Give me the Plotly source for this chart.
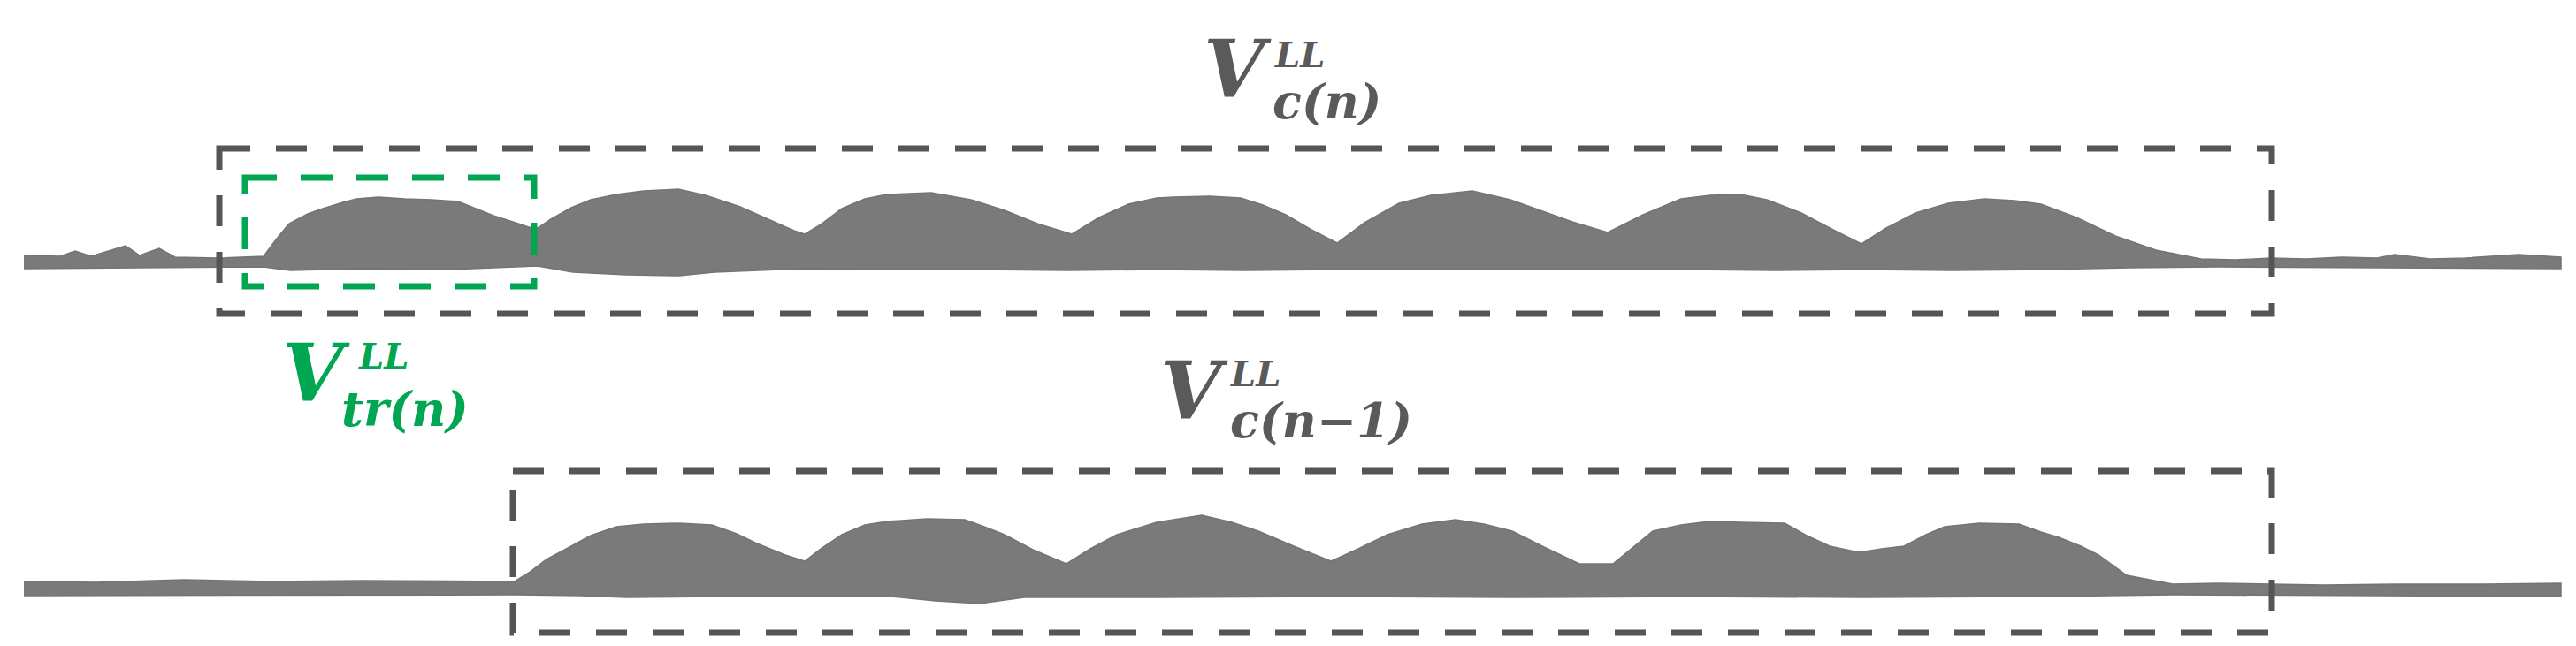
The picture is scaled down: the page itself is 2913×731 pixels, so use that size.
import plotly.graph_objects as go

# upper trace V_c(n): envelope (x in px, y in px from top)
top_up_x = [19, 60, 77, 95, 134, 150, 172, 190, 240, 270, 290, 305, 319, 340, 357, 380, 395, 420, 450, 480,
            510, 530, 550, 575, 590, 600, 615, 638, 660, 689, 720, 759, 790, 829, 860, 890, 902, 920, 944, 970,
            995, 1045, 1090, 1128, 1165, 1204, 1235, 1268, 1300, 1319, 1360, 1395, 1420, 1446, 1475, 1504, 1535,
            1574, 1610, 1657, 1700, 1733, 1770, 1810, 1850, 1893, 1926, 1960, 1990, 2029, 2065, 2097, 2125, 2158,
            2195, 2236, 2270, 2300, 2340, 2384, 2430, 2481, 2520, 2560, 2600, 2640, 2680, 2700, 2740, 2780, 2840, 2888]
top_up_y = [281, 282, 276, 282, 270, 281, 273, 283, 284, 283, 282, 262, 245, 234, 228, 221, 217, 215, 217, 218,
            220, 228, 236, 244, 249, 250, 240, 227, 218, 212, 208, 206, 213, 226, 240, 253, 257, 246, 228, 217,
            212, 210, 218, 230, 245, 257, 238, 223, 216, 215, 214, 216, 224, 235, 252, 267, 244,
            222, 213, 208, 218, 230, 243, 255, 235, 217, 213, 212, 218, 233, 252, 268, 250, 233,
            222, 217, 219, 223, 238, 259, 275, 285, 286, 284, 285, 283, 284, 280, 285, 284, 280, 283]
top_lo_x = [19, 150, 290, 320, 400, 500, 600, 640, 700, 760, 800, 900, 1000, 1100, 1200, 1300, 1400, 1500,
            1600, 1700, 1800, 1900, 2000, 2100, 2200, 2300, 2400, 2500, 2888]
top_lo_y = [296, 295, 294, 298, 296, 297, 293, 300, 303, 304, 300, 296, 297, 297, 298, 297, 298, 297,
            297, 297, 297, 297, 298, 297, 298, 297, 295, 294, 296]

# lower trace V_c(n-1)
low_up_x = [19, 100, 200, 300, 400, 500, 574, 590, 610, 638, 660, 689, 720, 760, 797, 825, 848, 880, 902, 920,
            944, 970, 995, 1040, 1083, 1105, 1128, 1160, 1198, 1225, 1255, 1300, 1351, 1385, 1415, 1455, 1497,
            1530, 1561, 1600, 1638, 1670, 1702, 1740, 1778, 1816, 1840, 1861, 1893, 1925, 1960, 2010, 2035, 2061,
            2094, 2120, 2145, 2170, 2191, 2230, 2275, 2300, 2320, 2345, 2365, 2397, 2449, 2500, 2560, 2620, 2700,
            2800, 2888]
low_up_y = [650, 651, 648, 650, 649, 650, 650, 640, 625, 610, 598, 588, 585, 584, 586, 596, 607, 620, 627, 613,
            597, 586, 582, 579, 580, 588, 597, 614, 630, 613, 597, 583, 575, 583, 593, 610, 627,
            612, 597, 585, 580, 585, 593, 612, 630, 630, 610, 593, 586, 582, 583, 584, 598, 610,
            617, 613, 610, 597, 588, 584, 585, 594, 600, 610, 620, 643, 653, 652, 653, 654, 653,
            653, 652]
low_lo_x = [19, 574, 650, 700, 800, 900, 1000, 1050, 1100, 1150, 1300, 1500, 1700, 1900, 2100, 2300, 2450, 2888]
low_lo_y = [666, 665, 666, 668, 667, 667, 667, 672, 675, 668, 668, 667, 668, 667, 668, 667, 665, 667]

# dashed windows (x0, y0, x1, y1)
gray_boxes = [(240, 160, 2561, 347), (572, 525, 2561, 708)]
green_box = (269, 193, 596, 316)

# labels: V, sup, sub, colour, V left, V baseline, sup dx, sup baseline dy, sub dx, sub baseline dy
labels = [("V", "LL", "c(n)", "#5a5a5a", 1372, 106, 60, -36, 58, 24),
          ("V", "LL", "tr(n)", "#00a651", 330, 450, 66, -39, 47, 28),
          ("V", "LL", "c(n\u22121)", "#5a5a5a", 1323, 470, 59, -39, 59, 21)]

FILL = "#7a7a7a"
GRAY = "#555555"
GREEN = "#00a651"

fig = go.Figure()
for ux, uy, lx, ly in [(top_up_x, top_up_y, top_lo_x, top_lo_y),
                       (low_up_x, low_up_y, low_lo_x, low_lo_y)]:
    fig.add_trace(go.Scatter(x=ux + lx[::-1], y=uy + ly[::-1], fill="toself", mode="lines",
                             fillcolor=FILL, line=dict(color="#747474", width=1.5), hoverinfo="skip"))

for x0, y0, x1, y1 in gray_boxes:
    fig.add_shape(type="rect", x0=x0, y0=y0, x1=x1, y1=y1,
                  line=dict(color=GRAY, width=7, dash="35px,29px"))
fig.add_shape(type="rect", x0=green_box[0], y0=green_box[1], x1=green_box[2], y1=green_box[3],
              line=dict(color=GREEN, width=7, dash="36px,27px"))

fam = "DejaVu Serif"
V_SIZE, SUP_SIZE, SUB_SIZE = 89, 40, 54
for big, sup, sub, col, x, yb, sdx, sdy, bdx, bdy in labels:
    # annotation box bottom sits ~0.19 em below the baseline
    fig.add_annotation(x=x - 20, y=yb + 0.19 * V_SIZE, text=f"<b><i>{big}</i></b>", showarrow=False,
                       xanchor="left", yanchor="bottom", borderpad=0,
                       font=dict(family=fam, size=V_SIZE, color=col))
    fig.add_annotation(x=x + sdx, y=yb + sdy + 0.19 * SUP_SIZE, text=f"<b><i>{sup}</i></b>", showarrow=False,
                       xanchor="left", yanchor="bottom", borderpad=0,
                       font=dict(family=fam, size=SUP_SIZE, color=col))
    fig.add_annotation(x=x + bdx, y=yb + bdy + 0.19 * SUB_SIZE, text=f"<b><i>{sub}</i></b>", showarrow=False,
                       xanchor="left", yanchor="bottom", borderpad=0,
                       font=dict(family=fam, size=SUB_SIZE, color=col))

fig.update_layout(width=2913, height=731, margin=dict(l=0, r=0, t=0, b=0),
                  paper_bgcolor="white", plot_bgcolor="white", showlegend=False)
fig.update_xaxes(range=[0, 2913], visible=False)
fig.update_yaxes(range=[731, 0], visible=False)
fig.write_html("out.html")
